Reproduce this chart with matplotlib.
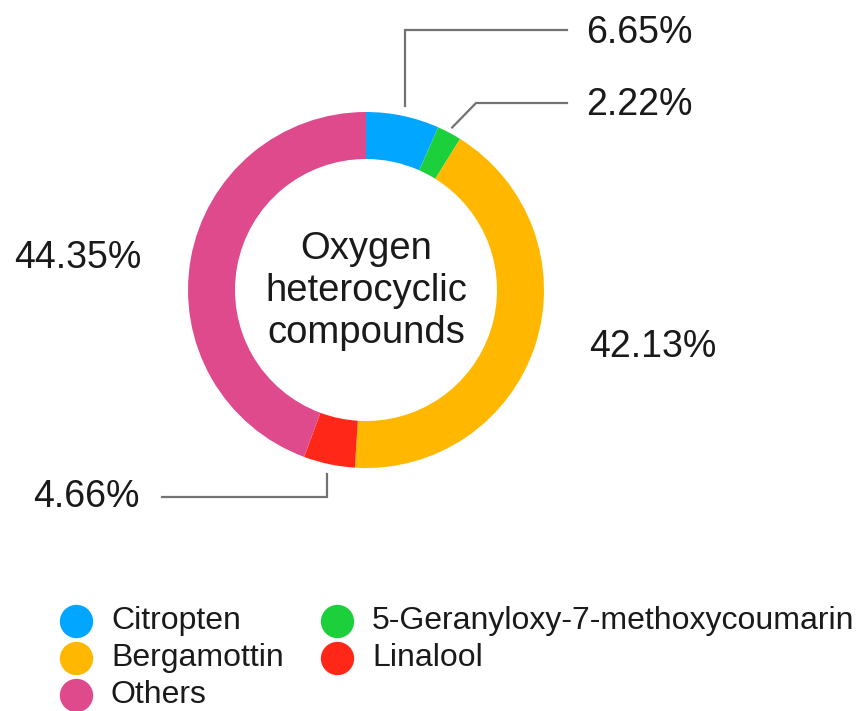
import numpy as np
import matplotlib
matplotlib.use("Agg")
import matplotlib.pyplot as plt

plt.rcParams['font.family'] = ['Liberation Sans', 'DejaVu Sans']

# datos
labels = ["Citropten", "5-Geranyloxy-7-methoxycoumarin", "Bergamottin", "Linalool", "Others"]
values = [6.65, 2.22, 42.13, 4.66, 44.35]
colors = ["#00A6FF", "#1CD03C", "#FFB700", "#FF2718", "#DE4A8C"]
center_text = "Oxygen\nheterocyclic\ncompounds"

W, H = 866, 711
fig = plt.figure(figsize=(W / 100, H / 100), dpi=100)
ax = fig.add_axes([0, 0, 1, 1])

# coordenadas en pixeles (y hacia abajo) -> datos
def Y(y):
    return H - y

cx, cy, R = 366, 290, 178
wedges, _ = ax.pie(values, colors=colors, startangle=90, counterclock=False,
                   radius=R, center=(cx, Y(cy)),
                   wedgeprops=dict(width=47, linewidth=0))

ax.text(cx, Y(291), center_text, ha="center", va="center", fontsize=27.5,
        color="#1a1a1a", linespacing=1.2)

# angulo medio de cada porcion
cum = np.cumsum([0] + values[:-1])
mid = 90 - (cum + np.array(values) / 2) * 3.6

def anchor(i, r):
    a = np.deg2rad(mid[i])
    return cx + r * np.cos(a), cy - r * np.sin(a)

line_kw = dict(color="#727272", lw=1.6, solid_joinstyle="miter")
lab_kw = dict(fontsize=27, color="#1a1a1a", va="center")

# Citropten
x0, y0 = anchor(0, 188)
ax.plot([x0, x0, 567], [Y(y0), Y(30), Y(30)], **line_kw)
ax.text(586, Y(33), f"{values[0]:.2f}%", ha="left", **lab_kw)

# 5-Geranyloxy
x0, y0 = anchor(1, 184)
ax.plot([x0, 476, 567], [Y(y0), Y(103), Y(103)], **line_kw)
ax.text(586, Y(105), f"{values[1]:.2f}%", ha="left", **lab_kw)

# Bergamottin
ax.text(589, Y(347), f"{values[2]:.2f}%", ha="left", **lab_kw)

# Linalool
x0, y0 = anchor(3, 188)
ax.plot([x0, x0, 162], [Y(y0), Y(497), Y(497)], **line_kw)
ax.text(140, Y(497), f"{values[3]:.2f}%", ha="right", **lab_kw)

# Others
ax.text(14, Y(258), f"{values[4]:.2f}%", ha="left", **lab_kw)

# leyenda manual (dos columnas, orden por columnas)
order = [0, 2, 4, 1, 3]
for k, i in enumerate(order):
    col, row = divmod(k, 3)
    mx = 76 + col * 261
    my = 621 + row * 37
    ax.plot(mx, Y(my), marker="o", markersize=24, markerfacecolor=colors[i],
            markeredgewidth=0, ls="none")
    ax.text(mx + 35, Y(my), labels[i], fontsize=23, color="#1a1a1a",
            ha="left", va="center")

ax.set_xlim(0, W)
ax.set_ylim(0, H)
ax.set_aspect("equal")
ax.axis("off")

fig.savefig("out.png", dpi=100)
